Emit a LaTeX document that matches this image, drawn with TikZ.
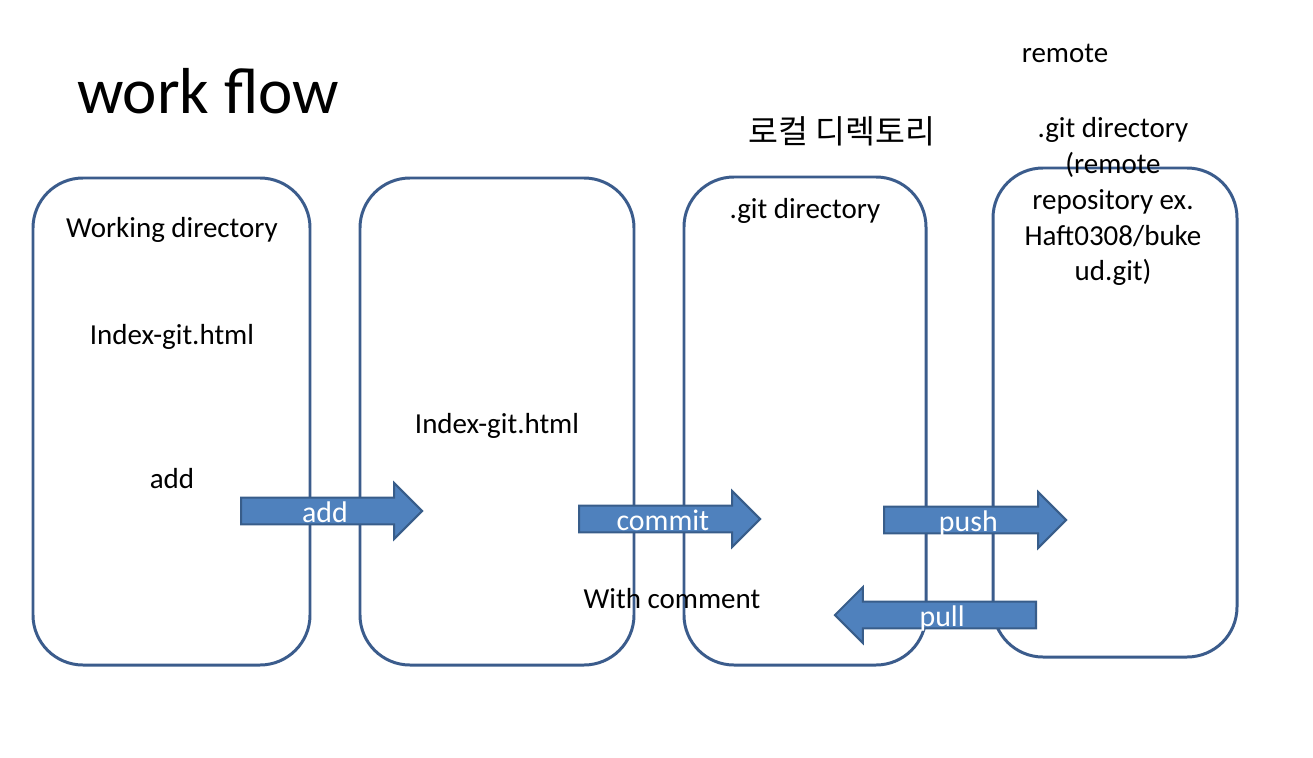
\documentclass[tikz,border=0pt]{standalone}
\usepackage{fontspec}
\setmainfont{Carlito}
\newfontfamily\korfont{Noto Sans CJK KR}
\usetikzlibrary{shapes.arrows}
\definecolor{boxline}{HTML}{3B5C8C}
\definecolor{arrowfill}{HTML}{4F81BD}
\definecolor{arrowline}{HTML}{385D8A}
\newcommand{\txtsize}{\fontsize{16.5}{20.4}\selectfont}
\tikzstyle{box}=[draw=boxline,line width=1.7pt,rounded corners=1cm]
\tikzstyle{txt}=[font=\txtsize,align=center,inner sep=0pt]
\tikzstyle{flow}=[single arrow,draw=arrowline,fill=arrowfill,line width=1.2pt,
  text=white,font=\fontsize{17}{20}\selectfont,inner sep=0pt,text height=13.5pt,text depth=0.5pt,
  single arrow head extend=0.29cm,minimum height=3.62cm,anchor=tail]

\begin{document}
\begin{tikzpicture}[x=0.02cm,y=-0.02cm]
  \useasboundingbox (0,0) rectangle (1313,758);

  % the four areas
  \draw[box] (33,178) rectangle (310,665);
  \draw[box] (360,178) rectangle (634,665);
  \draw[box] (684,177) rectangle (926,665);
  \draw[box] (993,168) rectangle (1237,657);

  \node[txt,font=\fontsize{37}{40}\selectfont] (title) at (208,91) {work flow};
  \node[txt] (remote) at (1065,53) {remote};
  \node[txt,font=\korfont\fontsize{18.5}{22}\selectfont] (local) at (842,131) {로컬 디렉토리};

  \node[txt] (workdir) at (172,230) {Working directory};
  \node[txt] (workfile) at (172,337) {Index-git.html};
  \node[txt] (workadd) at (172,479) {add};
  \node[txt] (stagefile) at (497,426) {Index-git.html};
  \node[txt] (localgit) at (805,211) {.git directory};
  \node[txt] (comment) at (672,599) {With comment};
  \node[txt,anchor=north] (remotegit) at (1113,117)
    {.git directory\\(remote\\repository ex.\\Haft0308/buke\\ud.git)};

  % block arrows
  \node[flow] (add) at (240,511) {add};
  \node[flow] (commit) at (578,519) {commit};
  \node[flow,minimum height=3.64cm] (push) at (883,520) {push};
  \node[flow,minimum height=4.02cm,shape border rotate=180] (pull) at (1037,615) {pull};
\end{tikzpicture}
\end{document}
